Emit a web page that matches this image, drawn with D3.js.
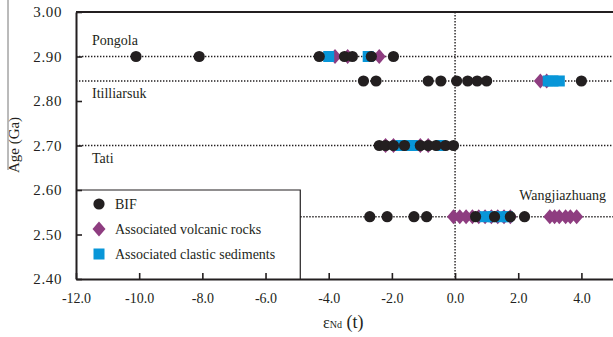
<!DOCTYPE html>
<html>
<head>
<meta charset="utf-8">
<script src="https://cdn.jsdelivr.net/npm/d3@7"></script>
<style>
  body { margin: 0; background: #fff; }
  text { font-family: "Liberation Serif", "Times New Roman", serif; fill: #231f20; }
</style>
</head>
<body>
<div id="chart"></div>
<script>
// Data
const sites = ['Pongola', 'Itilliarsuk', 'Tati', 'Wangjiazhuang']
const siteAges = [2.90, 2.845, 2.70, 2.54]
const bifEps = [
    [-10.1, -8.1, -4.3, -3.5, -3.25, -2.65, -1.95],
    [-2.9, -2.5, -0.85, -0.45, 0.05, 0.4, 0.7, 1.0, 4.0],
    [-2.4, -2.2, -1.95, -1.6, -1.1, -0.85, -0.6, -0.3, -0.05],
    [-2.7, -2.15, -1.3, -0.9, 0.65, 1.25, 1.75, 2.2]
]
const volcanicEps = [
    [-3.8, -3.4, -2.4],
    [2.7, 2.9],
    [-2.2, -1.95, -1.1, -0.85],
    [-0.05, 0.15, 0.35, 0.55, 0.75, 0.95, 1.15, 1.35, 1.55, 1.75,
     3.0, 3.15, 3.3, 3.5, 3.65, 3.85]
]
const clasticEps = [
    [-4.0, -2.75],
    [2.95, 3.1, 3.3],
    [-1.7, -1.35, -0.45],
    [0.95, 1.2, 1.5, 1.65]
]
const xTicks = [-12, -10, -8, -6, -4, -2, 0, 2, 4]
const yTicks = [2.4, 2.5, 2.6, 2.7, 2.8, 2.9, 3.0]
const legendItems = ['BIF', 'Associated volcanic rocks', 'Associated clastic sediments']

const colors = { bif: '#231f20', volcanic: '#8e3d80', clastic: '#0896d8' }

//Dimensions
let margin = { top: 12, right: 0, bottom: 58, left: 76 },
    width = 613 - margin.left - margin.right,
    height = 337 - margin.top - margin.bottom

const svg = d3.select('#chart')
    .append('svg')
    .attr('width', 613)
    .attr('height', 337)

const g = svg.append('g')
    .attr('transform', 'translate(' + margin.left + ',' + margin.top + ')')

// Scales
let x = d3.scaleLinear().domain([-12, 5]).range([0, width])
let y = d3.scaleLinear().domain([2.4, 3.0]).range([height, 0])

// legend box edges (data coords)
const legendRight = -4.9
const legendTop = 2.6

// dotted row lines
g.selectAll('.rowline')
    .data(siteAges)
    .enter()
    .append('line')
    .attr('x1', (d, i) => i === 3 ? x(legendRight) : 0)
    .attr('x2', width)
    .attr('y1', d => y(d))
    .attr('y2', d => y(d))
    .attr('stroke', '#231f20')
    .attr('stroke-width', 1.4)
    .attr('stroke-dasharray', '1.4,1.6')

// vertical dotted line at 0
g.append('line')
    .attr('x1', x(0)).attr('x2', x(0))
    .attr('y1', 0).attr('y2', height)
    .attr('stroke', '#231f20')
    .attr('stroke-width', 1.4)
    .attr('stroke-dasharray', '1.4,1.6')

// flatten points
function flatten(arr) {
    let out = []
    arr.forEach((vals, i) => vals.forEach(v => out.push({ v: v, age: siteAges[i] })))
    return out
}

// diamond: half width 6.5, half height 7.5
const diamond = 'M0,-7.5L6.5,0L0,7.5L-6.5,0Z'

g.append('g').selectAll('path')
    .data(flatten(volcanicEps))
    .enter()
    .append('path')
    .attr('d', diamond)
    .attr('transform', d => 'translate(' + x(d.v) + ',' + y(d.age) + ')')
    .attr('fill', colors.volcanic)

g.append('g').selectAll('rect')
    .data(flatten(clasticEps))
    .enter()
    .append('rect')
    .attr('x', d => x(d.v) - 5.5)
    .attr('y', d => y(d.age) - 5.5)
    .attr('width', 11)
    .attr('height', 11)
    .attr('fill', colors.clastic)

g.append('g').selectAll('circle')
    .data(flatten(bifEps))
    .enter()
    .append('circle')
    .attr('cx', d => x(d.v))
    .attr('cy', d => y(d.age))
    .attr('r', 5.6)
    .attr('fill', colors.bif)

// site labels
const labelPos = [
    { dx: 16, dy: -16, anchor: 'start' },
    { dx: 16, dy: 12, anchor: 'start' },
    { dx: 16, dy: 13, anchor: 'start' },
    { dx: -7, dy: -22, anchor: 'end' }
]
g.selectAll('.site')
    .data(sites)
    .enter()
    .append('text')
    .attr('x', (d, i) => labelPos[i].anchor === 'end' ? width + labelPos[i].dx : labelPos[i].dx)
    .attr('y', (d, i) => y(siteAges[i]) + labelPos[i].dy)
    .attr('dy', '0.35em')
    .attr('text-anchor', (d, i) => labelPos[i].anchor)
    .style('font-size', '14px')
    .text(d => d)

// legend
g.append('path')
    .attr('d', 'M0,' + y(legendTop) + 'H' + x(legendRight) + 'V' + height)
    .attr('fill', 'none')
    .attr('stroke', '#231f20')
    .attr('stroke-width', 1.2)

let legend = g.selectAll('.legend')
    .data(legendItems)
    .enter()
    .append('g')
    .attr('transform', (d, i) => 'translate(23,' + (y(legendTop) + 14 + i * 25) + ')')

legend.each(function(d, i) {
    let el = d3.select(this)
    if (i === 0) el.append('circle').attr('r', 5.6).attr('fill', colors.bif)
    if (i === 1) el.append('path').attr('d', diamond).attr('fill', colors.volcanic)
    if (i === 2) el.append('rect').attr('x', -5.5).attr('y', -5.5).attr('width', 11).attr('height', 11).attr('fill', colors.clastic)
})
legend.append('text')
    .attr('x', 16)
    .attr('dy', '0.35em')
    .style('font-size', '14px')
    .text(d => d)

const fmt1 = d => d3.format('.1f')(d).replace('\u2212', '-')
const fmt2 = d => d3.format('.2f')(d)

// X axis
let xAxis = g.append('g')
    .attr('transform', 'translate(0,' + height + ')')
    .call(d3.axisBottom(x).tickValues(xTicks).tickFormat(fmt1).tickSizeInner(-6).tickSizeOuter(0).tickPadding(14))
xAxis.selectAll('text').style('font-size', '14px').attr('fill', '#231f20')
xAxis.select('.domain').attr('stroke', '#231f20').attr('stroke-width', 2)
xAxis.selectAll('.tick line').attr('stroke', '#231f20').attr('stroke-width', 1.6)

// Y axis
let yAxis = g.append('g')
    .call(d3.axisLeft(y).tickValues(yTicks).tickFormat(fmt2).tickSizeInner(-6).tickSizeOuter(0).tickPadding(14))
yAxis.selectAll('text').style('font-size', '15px').style('letter-spacing', '0.6px').attr('fill', '#231f20')
yAxis.select('.domain').attr('stroke', '#231f20').attr('stroke-width', 2)
yAxis.selectAll('.tick line').attr('stroke', '#231f20').attr('stroke-width', 1.6)

// top frame
g.append('line')
    .attr('x1', 0).attr('x2', width)
    .attr('y1', 0).attr('y2', 0)
    .attr('stroke', '#231f20')
    .attr('stroke-width', 2)

// axis titles
svg.append('text')
    .attr('transform', 'translate(19,' + 145 + ') rotate(-90)')
    .attr('text-anchor', 'middle')
    .style('font-size', '15px')
    .text('Age (Ga)')

svg.append('line')
    .attr('x1', 8).attr('x2', 8)
    .attr('y1', 0).attr('y2', 170)
    .attr('stroke', '#777')
    .attr('stroke-width', 1)

let xt = svg.append('text')
    .attr('x', 323)
    .attr('y', 328)
    .style('font-size', '16px')
xt.append('tspan').text('ε')
xt.append('tspan').style('font-size', '10px').text('Nd')
xt.append('tspan').style('font-size', '18px').text(' (t)')
</script>
</body>
</html>
